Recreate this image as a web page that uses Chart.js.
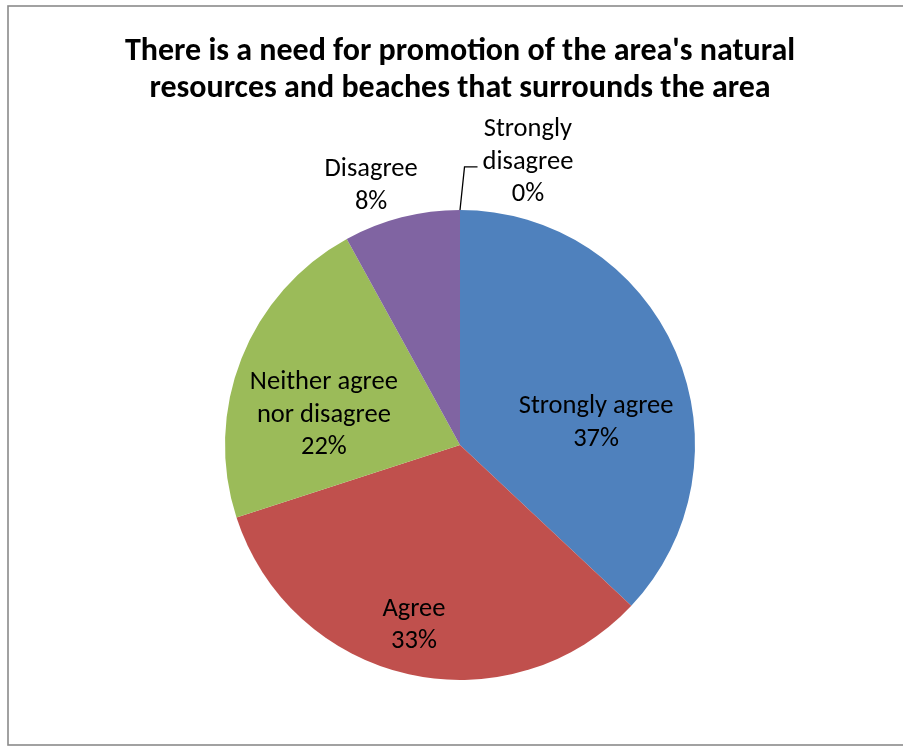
<!DOCTYPE html>
<html>
<head>
<meta charset="utf-8">
<script src="https://cdn.jsdelivr.net/npm/chart.js@4/dist/chart.umd.min.js"></script>
<style>
  html, body { margin: 0; padding: 0; background: #ffffff; }
  #wrap { width: 903px; height: 747px; position: relative; }
</style>
</head>
<body>
<div id="wrap"><canvas id="chart" width="903" height="747"></canvas></div>
<script>
// Survey responses
const categories = [
  "Strongly agree",
  "Agree",
  ["Neither agree", "nor disagree"],
  "Disagree",
  ["Strongly", "disagree"]
];
const percentages = [37, 33, 22, 8, 0];
const sliceColors = ["#4F81BD", "#C0504D", "#9BBB59", "#8064A2", "#4BACC6"];
const titleLines = [
  "There is a need for promotion of the area's natural",
  "resources and beaches that surrounds the area"
];

// Where each data label sits: fraction of the radius and a nudge (degrees) from the slice middle
const labelRadius = [0.588, 0.783, 0.595, 1.174, 1.247];
const labelNudge = [13.4, 1.9, -8.4, -4.4, 13.4];

const FONT = "Carlito, Calibri, Lato, 'Open Sans', sans-serif";

const framePlugin = {
  id: 'frame',
  beforeDraw(chart) {
    const ctx = chart.ctx;
    ctx.save();
    ctx.fillStyle = '#ffffff';
    ctx.fillRect(0, 0, chart.width, chart.height);
    ctx.strokeStyle = '#8a8a8a';
    ctx.lineWidth = 1.6;
    ctx.strokeRect(8, 6, chart.width + 20, 739);
    ctx.restore();
  }
};

const sliceLabelPlugin = {
  id: 'sliceLabels',
  afterDatasetsDraw(chart) {
    const ctx = chart.ctx;
    const meta = chart.getDatasetMeta(0);
    const lineH = 32.5;
    ctx.save();
    ctx.font = "26.5px " + FONT;
    ctx.fillStyle = '#000000';
    ctx.textAlign = 'center';
    ctx.textBaseline = 'middle';
    meta.data.forEach((arc, i) => {
      const p = arc.getProps(['x', 'y', 'startAngle', 'endAngle', 'outerRadius'], true);
      const mid = (p.startAngle + p.endAngle) / 2 + labelNudge[i] * Math.PI / 180;
      const r = p.outerRadius * labelRadius[i];
      const cx = p.x + r * Math.cos(mid);
      const cy = p.y + r * Math.sin(mid) + 2;
      const name = chart.data.labels[i];
      const lines = (Array.isArray(name) ? name.slice() : [name]);
      lines.push(percentages[i] + '%');
      const top = cy - (lines.length - 1) * lineH / 2;
      lines.forEach((t, k) => ctx.fillText(t, cx, top + k * lineH));

      // leader line for labels placed outside the pie
      if (labelRadius[i] > 1.2) {
        const edgeA = (p.startAngle + p.endAngle) / 2;
        const ex = p.x + p.outerRadius * Math.cos(edgeA);
        const ey = p.y + p.outerRadius * Math.sin(edgeA);
        const widest = Math.max(...lines.map(t => ctx.measureText(t).width));
        const hx = cx - widest / 2 - 5;
        const hy = cy + 5;
        ctx.beginPath();
        ctx.strokeStyle = '#000000';
        ctx.lineWidth = 1.3;
        ctx.moveTo(ex, ey);
        ctx.lineTo(hx - 13, hy);
        ctx.lineTo(hx, hy);
        ctx.stroke();
      }
    });
    ctx.restore();
  }
};

new Chart(document.getElementById('chart'), {
  type: 'pie',
  data: {
    labels: categories,
    datasets: [{
      data: percentages,
      backgroundColor: sliceColors,
      borderWidth: 0,
      hoverOffset: 0,
      offset: 0
    }]
  },
  options: {
    responsive: false,
    animation: false,
    events: [],
    layout: { padding: { left: 17, right: 0, top: 0, bottom: 67 } },
    plugins: {
      legend: { display: false },
      tooltip: { enabled: false },
      title: {
        display: true,
        text: titleLines,
        color: '#000000',
        font: { family: FONT, size: 32, weight: 'bold', lineHeight: 1.156 },
        padding: { top: 34, bottom: 102 }
      }
    }
  },
  plugins: [framePlugin, sliceLabelPlugin]
});
</script>
</body>
</html>
